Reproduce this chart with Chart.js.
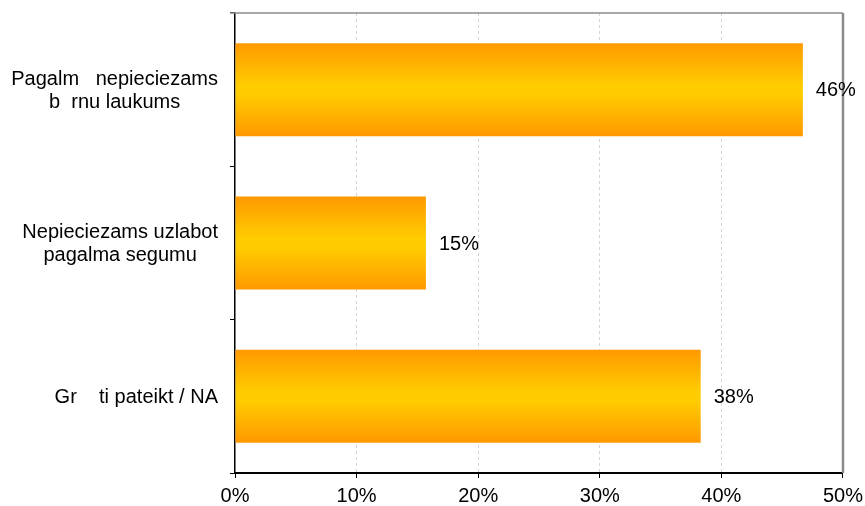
<!DOCTYPE html>
<html>
<head>
<meta charset="utf-8">
<script src="https://cdn.jsdelivr.net/npm/chart.js@4"></script>
<style>
  html, body { margin: 0; padding: 0; background: #fff; }
  #wrap { width: 865px; height: 506px; }
</style>
</head>
<body>
<div id="wrap"><canvas id="chart"></canvas></div>
<script>
const categories = [
  ['Pagalm   nepieciezams', 'b  rnu laukums'],
  ['Nepieciezams uzlabot', 'pagalma segumu'],
  ['Gr    ti pateikt / NA']
];
const values = [46.7, 15.7, 38.3];
const valueLabels = ['46%', '15%', '38%'];
const xTicks = [0, 10, 20, 30, 40, 50];

const FONT = '"Liberation Sans", Arial, sans-serif';

function barGradient(context) {
  const chart = context.chart;
  const y = chart.scales.y;
  if (!chart.chartArea || !y) return '#FFB400';
  const center = y.getPixelForValue(context.dataIndex);
  const half = (y.height / categories.length) * 0.606 / 2;
  const g = chart.ctx.createLinearGradient(0, center - half, 0, center + half);
  g.addColorStop(0, '#FF9900');
  g.addColorStop(0.45, '#FFCC00');
  g.addColorStop(0.55, '#FFCC00');
  g.addColorStop(1, '#FF9900');
  return g;
}

const labelPlugin = {
  id: 'labelPlugin',
  afterDraw(chart) {
    const ctx = chart.ctx;
    const area = chart.chartArea;
    const y = chart.scales.y;

    // plot frame (top and right)
    ctx.save();
    ctx.strokeStyle = '#8c8c8c';
    ctx.lineWidth = 1.5;
    ctx.beginPath();
    ctx.moveTo(area.left - 5, area.top);
    ctx.lineTo(area.right, area.top);
    ctx.stroke();
    ctx.lineWidth = 2.5;
    ctx.beginPath();
    ctx.moveTo(area.right, area.top);
    ctx.lineTo(area.right, area.bottom);
    ctx.stroke();
    ctx.restore();

    // category labels, lines centered in a right-aligned block
    ctx.save();
    ctx.font = '20px ' + FONT;
    ctx.fillStyle = '#000';
    ctx.textAlign = 'center';
    ctx.textBaseline = 'middle';
    const lineH = 23;
    categories.forEach((lines, i) => {
      const cy = y.getPixelForValue(i) + 1;
      const maxW = Math.max(...lines.map((l) => ctx.measureText(l).width));
      const cx = area.left - 17 - maxW / 2;
      const startY = cy - ((lines.length - 1) * lineH) / 2;
      lines.forEach((l, j) => ctx.fillText(l, cx, startY + j * lineH));
    });
    ctx.restore();

    // value labels
    const meta = chart.getDatasetMeta(0);
    ctx.save();
    ctx.font = '20px ' + FONT;
    ctx.fillStyle = '#000';
    ctx.textAlign = 'left';
    ctx.textBaseline = 'middle';
    meta.data.forEach((bar, i) => {
      ctx.fillText(valueLabels[i], bar.x + 13, bar.y + 1);
    });
    ctx.restore();
  }
};

new Chart(document.getElementById('chart').getContext('2d'), {
  type: 'bar',
  data: {
    labels: categories.map((c) => c.join(' ')),
    datasets: [
      {
        data: values,
        backgroundColor: barGradient,
        borderWidth: 0,
        barPercentage: 0.606,
        categoryPercentage: 1,
      },
    ],
  },
  options: {
    indexAxis: 'y',
    responsive: true,
    maintainAspectRatio: false,
    animation: false,
    layout: {
      padding: { top: 13, right: 22, left: 0, bottom: 0 },
    },
    scales: {
      x: {
        min: 0,
        max: 50,
        afterBuildTicks: (scale) => {
          scale.ticks = xTicks.map((v) => ({ value: v }));
        },
        afterFit: (scale) => {
          scale.height = 33;
        },
        ticks: {
          color: '#000',
          font: { family: FONT, size: 20, lineHeight: 1.6 },
          padding: 2,
          callback: (v) => v + '%',
        },
        grid: {
          color: (c) => (c.tick && (c.tick.value === 0 || c.tick.value === 50) ? 'rgba(0,0,0,0)' : '#d4d4d4'),
          lineWidth: 1,
          tickColor: '#000',
          tickLength: 5,
        },
        border: {
          color: '#000',
          width: 2,
          dash: [3, 3],
        },
      },
      y: {
        afterFit: (scale) => {
          scale.width = 235;
        },
        ticks: { display: false },
        grid: {
          offset: true,
          drawOnChartArea: false,
          tickColor: '#000',
          tickLength: 5,
        },
        border: {
          color: '#000',
          width: 1.5,
        },
      },
    },
    plugins: {
      legend: { display: false },
      tooltip: { enabled: false },
    },
  },
  plugins: [labelPlugin],
});
</script>
</body>
</html>
